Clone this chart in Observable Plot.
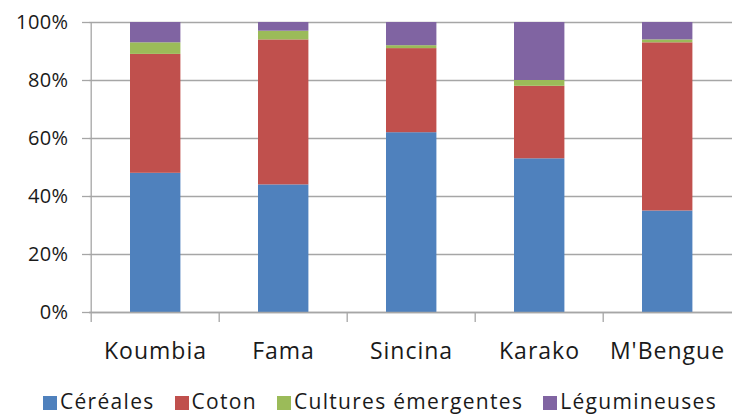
<!DOCTYPE html>
<html>
<head>
<meta charset="utf-8">
<script src="https://cdn.jsdelivr.net/npm/d3@7"></script>
<script src="https://cdn.jsdelivr.net/npm/@observablehq/plot@0.6"></script>
<style>
  html, body { margin: 0; padding: 0; background: #fff; }
  #wrap { position: relative; width: 732px; height: 414px; font-family: "Open Sans", sans-serif; color: #1a1a1a; }
  #legend { position: absolute; top: 387px; left: 43px; display: flex; font-size: 21px; line-height: 28px; white-space: nowrap; letter-spacing: 1.3px; }
  .item { display: flex; align-items: center; margin-right: 20px; }
  .sw { display: inline-block; width: 14px; height: 14px; margin-right: 3px; margin-top: 3px; }
  g[aria-label="x-axis tick label"] text { letter-spacing: 1px; }
  g[aria-label="y-axis tick label"] text { letter-spacing: 0.4px; }
</style>
</head>
<body>
<div id="wrap"><div id="chart"></div><div id="legend"></div></div>
<script>
const categories = ["Koumbia", "Fama", "Sincina", "Karako", "M'Bengue"];
const series = ["Céréales", "Coton", "Cultures émergentes", "Légumineuses"];
const colors = ["#4F81BD", "#C0504D", "#9BBB59", "#8064A2"];
const cereales = [48, 44, 62, 53, 35];
const coton = [41, 50, 29, 25, 58];
const cultures = [4, 3, 1, 2, 1];
const legumineuses = [7, 3, 8, 20, 6];
const yTicks = [0, 20, 40, 60, 80, 100];

const valuesBySeries = [cereales, coton, cultures, legumineuses];
const table = [];
categories.forEach((c, i) => {
  series.forEach((s, j) => table.push({cat: c, series: s, value: valuesBySeries[j][i]}));
});

const W = 732, H = 375, mL = 89, mR = 0;
const bw = (W - mL - mR) / categories.length;
const grid = "#a6a6a6";

const chart = Plot.plot({
  width: W, height: H,
  marginLeft: mL, marginRight: mR, marginTop: 22, marginBottom: 63,
  style: {fontFamily: "Open Sans, sans-serif", color: "#1a1a1a", background: "#fff"},
  x: {domain: categories, padding: 0, label: null, axis: null},
  y: {domain: [0, 100], ticks: yTicks, label: null, axis: null},
  color: {domain: series, range: colors},
  marks: [
    Plot.gridY(yTicks, {stroke: grid, strokeOpacity: 1, strokeWidth: 1.3}),
    Plot.axisY({ticks: yTicks, tickSize: 7, tickPadding: 14, tickFormat: d => d + "%", fontSize: 20, stroke: grid, strokeWidth: 1.3, fill: "#1a1a1a", label: null}),
    Plot.ruleX([categories[0]], {dx: -bw / 2, stroke: grid, strokeWidth: 1.3}),
    Plot.axisX({ticks: categories, tickSize: 10, dx: -bw / 2, tickFormat: () => "", stroke: grid, strokeWidth: 1.3, label: null}),
    Plot.barY(table, {x: "cat", y: "value", fill: "series", insetLeft: 39, insetRight: 38.6}),
    Plot.ruleY([0], {stroke: grid, strokeWidth: 1.3}),
    Plot.axisX({ticks: categories, tickSize: 0, tickPadding: 30, fontSize: 23, fill: "#1a1a1a", label: null})
  ]
});
document.getElementById("chart").appendChild(chart);

const legend = d3.select("#legend");
series.forEach((s, j) => {
  const it = legend.append("div").attr("class", "item");
  it.append("span").attr("class", "sw").style("background", colors[j]);
  it.append("span").text(s);
});
</script>
</body>
</html>
